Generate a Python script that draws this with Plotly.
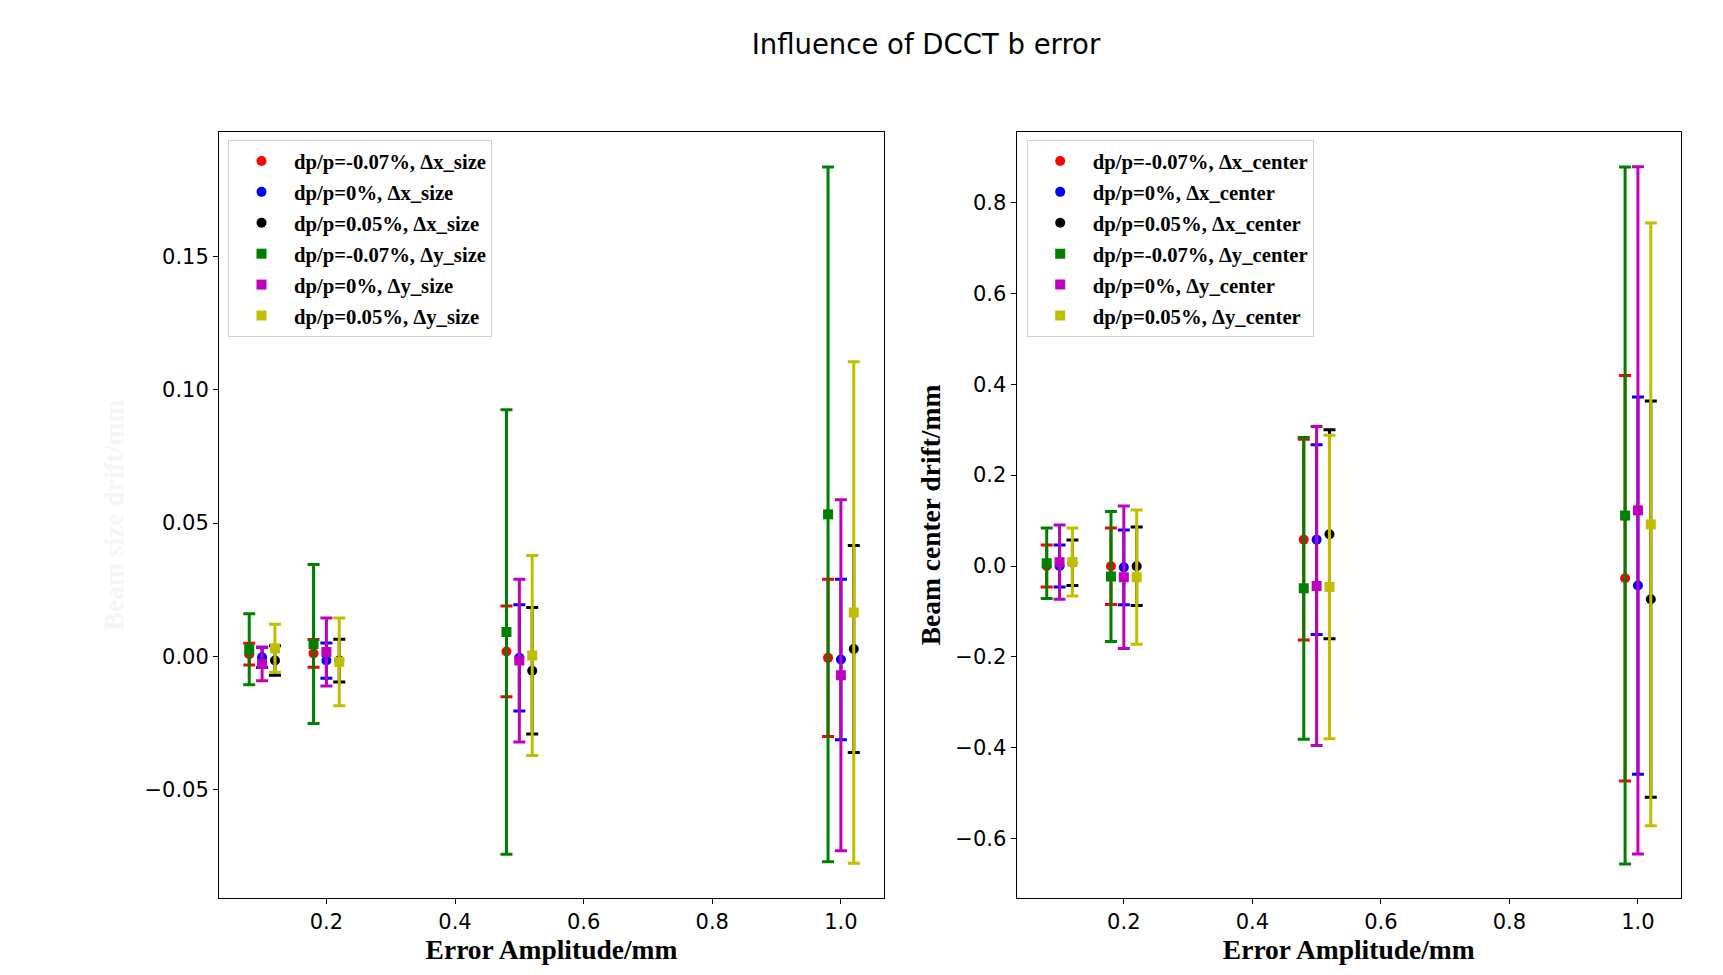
import plotly.graph_objects as go

# ---------------- data ----------------
amplitudes = [0.1, 0.2, 0.5, 1.0]
offsets = [-0.02, 0.0, 0.02, -0.02, 0.0, 0.02]

size_labels = ["dp/p=-0.07%, Δx_size", "dp/p=0%, Δx_size", "dp/p=0.05%, Δx_size",
               "dp/p=-0.07%, Δy_size", "dp/p=0%, Δy_size", "dp/p=0.05%, Δy_size"]
center_labels = ["dp/p=-0.07%, Δx_center", "dp/p=0%, Δx_center", "dp/p=0.05%, Δx_center",
                 "dp/p=-0.07%, Δy_center", "dp/p=0%, Δy_center", "dp/p=0.05%, Δy_center"]

# left panel: beam size drift (value, error)
size_xm07 = [0.0009, 0.0012, 0.0019, -0.0005]
size_xm07_err = [0.0041, 0.0052, 0.0170, 0.0295]
size_x0 = [-0.0003, -0.0015, -0.0005, -0.0011]
size_x0_err = [0.0038, 0.0066, 0.0199, 0.0301]
size_x05 = [-0.0015, -0.0015, -0.0053, 0.0028]
size_x05_err = [0.0055, 0.0080, 0.0237, 0.0388]
size_ym07 = [0.0027, 0.0047, 0.0092, 0.0533]
size_ym07_err = [0.0133, 0.0298, 0.0833, 0.1302]
size_y0 = [-0.0028, 0.0017, -0.0015, -0.0070]
size_y0_err = [0.0063, 0.0127, 0.0305, 0.0658]
size_y05 = [0.0031, -0.0020, 0.0004, 0.0165]
size_y05_err = [0.0090, 0.0164, 0.0375, 0.0940]

# right panel: beam center drift (value, error)
cen_xm07 = [0.0000, -0.0007, 0.0580, -0.0270]
cen_xm07_err = [0.0460, 0.0842, 0.2210, 0.4460]
cen_x0 = [0.0000, -0.0030, 0.0580, -0.0430]
cen_x0_err = [0.0460, 0.0820, 0.2090, 0.4150]
cen_x05 = [0.0070, -0.0007, 0.0700, -0.0730]
cen_x05_err = [0.0500, 0.0864, 0.2300, 0.4360]
cen_ym07 = [0.0059, -0.0230, -0.0490, 0.1110]
cen_ym07_err = [0.0776, 0.1430, 0.3320, 0.7670]
cen_y0 = [0.0085, -0.0248, -0.0440, 0.1224]
cen_y0_err = [0.0817, 0.1568, 0.3510, 0.7560]
cen_y05 = [0.0088, -0.0245, -0.0460, 0.0916]
cen_y05_err = [0.0747, 0.1475, 0.3340, 0.6630]

colors = ["#ff0000", "#0000ff", "#000000", "#008000", "#bf00bf", "#bfbf00"]
symbols = ["circle", "circle", "circle", "square", "square", "square"]

size_series = [(size_xm07, size_xm07_err), (size_x0, size_x0_err), (size_x05, size_x05_err),
               (size_ym07, size_ym07_err), (size_y0, size_y0_err), (size_y05, size_y05_err)]
cen_series = [(cen_xm07, cen_xm07_err), (cen_x0, cen_x0_err), (cen_x05, cen_x05_err),
              (cen_ym07, cen_ym07_err), (cen_y0, cen_y0_err), (cen_y05, cen_y05_err)]

fig = go.Figure()

def add_panel(series, labels, xa, ya, legend, tag):
    for i, (vals, errs) in enumerate(series):
        xs = [a + offsets[i] for a in amplitudes]
        fig.add_trace(go.Scatter(
            x=xs, y=vals, mode="markers", name=labels[i],
            xaxis=xa, yaxis=ya, legend=legend, legendgroup=f"{tag}{i}",
            marker=dict(color=colors[i], symbol=symbols[i], size=10, line=dict(width=0)),
            error_y=dict(type="data", array=errs, visible=True, color=colors[i],
                         thickness=3, width=6),
        ))

add_panel(size_series, size_labels, "x", "y", "legend", "s")
add_panel(cen_series, center_labels, "x2", "y2", "legend2", "c")

tickfont = dict(family="DejaVu Sans", size=21, color="#000000")
titlefont = dict(family="Liberation Serif", size=27.5, color="#000000", weight="bold")
legfont = dict(family="Liberation Serif", size=20.7, color="#000000", weight="bold")

axis_common = dict(showline=True, linecolor="#000000", linewidth=1, mirror=True,
                   ticks="outside", ticklen=5, tickwidth=1, tickcolor="#000000",
                   showgrid=False, zeroline=False, tickfont=tickfont)

legend_common = dict(xanchor="left", yanchor="top", bgcolor="white",
                     bordercolor="#d0d0d0", borderwidth=1, font=legfont,
                     itemwidth=55, tracegroupgap=1)

fig.update_layout(
    width=1723, height=975,
    margin=dict(l=0, r=0, t=0, b=0),
    paper_bgcolor="white", plot_bgcolor="white",
    title=dict(text="Influence of DCCT b error", x=0.5374, xanchor="center",
               y=1 - 44 / 975, yanchor="middle",
               font=dict(family="DejaVu Sans", size=27.5, color="#000000")),
    xaxis=dict(domain=[219 / 1723, 884 / 1723], range=[0.033, 1.067], dtick=0.2, tick0=0,
               tickformat=".1f", anchor="y",
               title=dict(text="Error Amplitude/mm", font=titlefont, standoff=0),
               **axis_common),
    yaxis=dict(domain=[77 / 975, 843 / 975], range=[-0.0905, 0.1966], dtick=0.05, tick0=0,
               tickformat=".2f", anchor="x",
               title=dict(text="Beam size drift/mm",
                          font=dict(family="Liberation Serif", size=27.5, color="#f5f5f5",
                                    weight="bold"),
                          standoff=12),
               **axis_common),
    xaxis2=dict(domain=[1016.5 / 1723, 1681 / 1723], range=[0.033, 1.067], dtick=0.2, tick0=0,
                tickformat=".1f", anchor="y2",
                title=dict(text="Error Amplitude/mm", font=titlefont, standoff=0),
                **axis_common),
    yaxis2=dict(domain=[77 / 975, 843 / 975], range=[-0.7306, 0.9551], dtick=0.2, tick0=0,
                tickformat=".1f", anchor="x2",
                title=dict(text="Beam center drift/mm", font=titlefont, standoff=6),
                **axis_common),
    legend=dict(x=228 / 1723, y=1 - 140 / 975, **legend_common),
    legend2=dict(x=1026.7 / 1723, y=1 - 140 / 975, **legend_common),
    showlegend=True,
)

fig.write_html("out.html")
